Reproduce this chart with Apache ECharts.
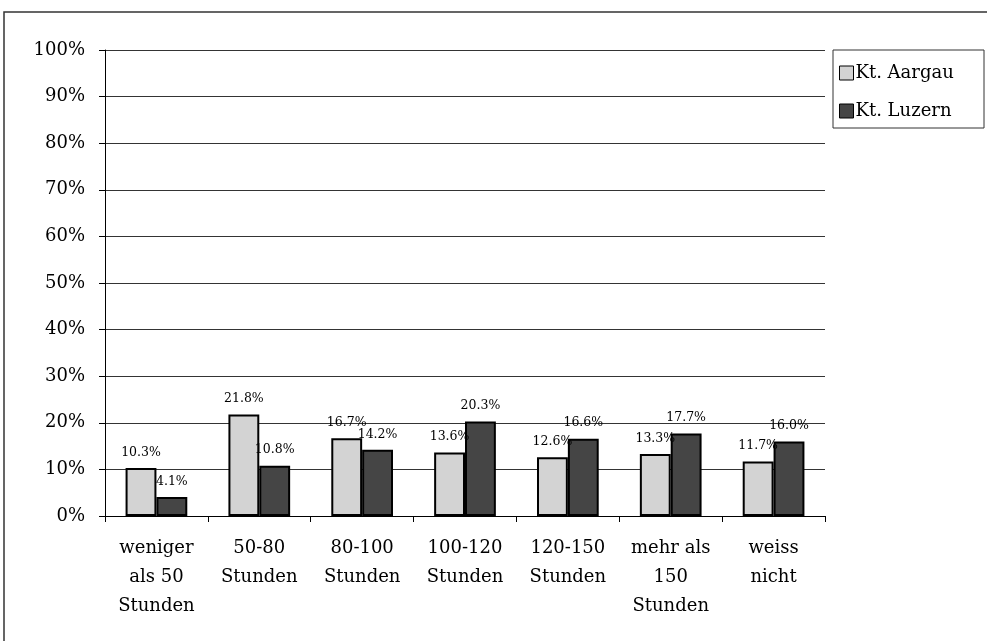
<!DOCTYPE html>
<html><head><meta charset="utf-8">
<script src="https://cdn.jsdelivr.net/npm/echarts@6/dist/echarts.min.js"></script>
<style>html,body{margin:0;padding:0;background:#fff}#c{width:987px;height:641px}</style>
</head><body><div id="c"></div>
<script>
const categories = ['weniger\nals 50\nStunden','50-80\nStunden','80-100\nStunden','100-120\nStunden','120-150\nStunden','mehr als\n150\nStunden','weiss\nnicht'];
const seriesNames = ['Kt. Aargau','Kt. Luzern'];
const aargau = [10.3, 21.8, 16.7, 13.6, 12.6, 13.3, 11.7];
const luzern = [4.1, 10.8, 14.2, 20.3, 16.6, 17.7, 16.0];
const font = '"DejaVu Serif","Liberation Serif",serif';
const chart = echarts.init(document.getElementById('c'));
function lbl(){return {show:true,position:'top',distance:9,fontFamily:font,fontSize:12.5,color:'#000',formatter:p=>p.value.toFixed(1)+'%'};}
chart.setOption({
  animation:false,
  graphic:[{type:'rect',shape:{x:4,y:12,width:990,height:640},style:{fill:'none',stroke:'#333',lineWidth:1.5},silent:true},
           {type:'rect',shape:{x:833,y:50,width:151,height:78},style:{fill:'#fff',stroke:'#333',lineWidth:1},silent:true}],
  legend:{orient:'vertical',left:834,top:59,itemGap:20,itemWidth:14,itemHeight:14,icon:'rect',
    itemStyle:{borderColor:'#000',borderWidth:1},
    textStyle:{fontFamily:font,fontSize:18,color:'#000',padding:[0,0,0,-3]},data:seriesNames},
  grid:{left:105,right:162,top:50,bottom:125,containLabel:false},
  xAxis:{type:'category',data:categories,
    axisLine:{lineStyle:{color:'#000',width:1}},
    axisTick:{show:true,alignWithLabel:false,length:6,lineStyle:{color:'#000'}},
    axisLabel:{fontFamily:font,fontSize:18,color:'#000',lineHeight:29,margin:18,interval:0}},
  yAxis:{type:'value',min:0,max:100,interval:10,
    axisLine:{show:true,lineStyle:{color:'#000'}},
    axisTick:{show:true,length:6,lineStyle:{color:'#000'}},
    splitLine:{lineStyle:{color:'#000',width:0.8}},
    axisLabel:{fontFamily:font,fontSize:18,color:'#000',margin:20,formatter:'{value}%'}},
  series:[
    {name:seriesNames[0],type:'bar',data:aargau,barGap:'0%',barCategoryGap:'40%',
     itemStyle:{color:'#d3d3d3',borderColor:'#000',borderWidth:2},label:lbl()},
    {name:seriesNames[1],type:'bar',data:luzern,
     itemStyle:{color:'#454545',borderColor:'#000',borderWidth:2},label:lbl()}
  ]
});
</script></body></html>
